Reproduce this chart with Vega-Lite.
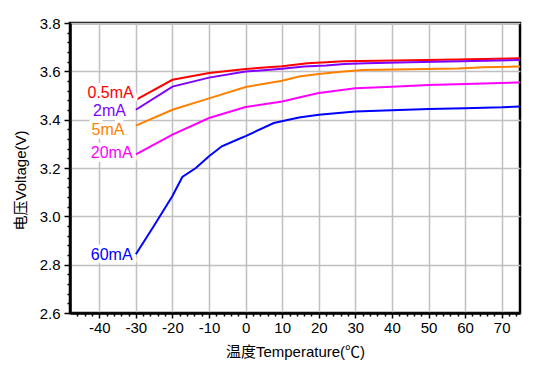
{
  "$schema": "https://vega.github.io/schema/vega-lite/v6.json",
  "width": 450,
  "height": 290,
  "autosize": {"type": "none"},
  "padding": {"left": 70, "top": 23, "right": 27, "bottom": 58},
  "background": "white",
  "config": {
    "view": {"stroke": "black", "strokeWidth": 2.5},
    "font": "Liberation Sans"
  },
  "datasets": {
    "curves": [
      {"series": "0.5mA", "T": -30, "V": 3.482},
      {"series": "0.5mA", "T": -20, "V": 3.565},
      {"series": "0.5mA", "T": -10, "V": 3.593},
      {"series": "0.5mA", "T": 0, "V": 3.61},
      {"series": "0.5mA", "T": 10, "V": 3.621},
      {"series": "0.5mA", "T": 16.9, "V": 3.633},
      {"series": "0.5mA", "T": 22, "V": 3.638},
      {"series": "0.5mA", "T": 26.6, "V": 3.642},
      {"series": "0.5mA", "T": 41, "V": 3.645},
      {"series": "0.5mA", "T": 57.7, "V": 3.649},
      {"series": "0.5mA", "T": 75, "V": 3.654},
      {"series": "2mA", "T": -30, "V": 3.441},
      {"series": "2mA", "T": -20, "V": 3.537},
      {"series": "2mA", "T": -10, "V": 3.574},
      {"series": "2mA", "T": 0, "V": 3.599},
      {"series": "2mA", "T": 10, "V": 3.611},
      {"series": "2mA", "T": 16, "V": 3.62},
      {"series": "2mA", "T": 22, "V": 3.624},
      {"series": "2mA", "T": 27, "V": 3.63},
      {"series": "2mA", "T": 33, "V": 3.633},
      {"series": "2mA", "T": 45, "V": 3.638},
      {"series": "2mA", "T": 59, "V": 3.642},
      {"series": "2mA", "T": 75, "V": 3.647},
      {"series": "5mA", "T": -30, "V": 3.375},
      {"series": "5mA", "T": -20, "V": 3.441},
      {"series": "5mA", "T": -10, "V": 3.488},
      {"series": "5mA", "T": 0, "V": 3.535},
      {"series": "5mA", "T": 10, "V": 3.561},
      {"series": "5mA", "T": 14.6, "V": 3.579},
      {"series": "5mA", "T": 20, "V": 3.589},
      {"series": "5mA", "T": 26, "V": 3.598},
      {"series": "5mA", "T": 32, "V": 3.606},
      {"series": "5mA", "T": 45, "V": 3.609},
      {"series": "5mA", "T": 58, "V": 3.612},
      {"series": "5mA", "T": 65, "V": 3.617},
      {"series": "5mA", "T": 75, "V": 3.62},
      {"series": "20mA", "T": -30, "V": 3.256},
      {"series": "20mA", "T": -20, "V": 3.338},
      {"series": "20mA", "T": -10, "V": 3.407},
      {"series": "20mA", "T": 0, "V": 3.452},
      {"series": "20mA", "T": 10, "V": 3.475},
      {"series": "20mA", "T": 14.6, "V": 3.492},
      {"series": "20mA", "T": 20, "V": 3.51},
      {"series": "20mA", "T": 30, "V": 3.53},
      {"series": "20mA", "T": 40, "V": 3.536},
      {"series": "20mA", "T": 50, "V": 3.543},
      {"series": "20mA", "T": 60, "V": 3.548},
      {"series": "20mA", "T": 75, "V": 3.554},
      {"series": "60mA", "T": -30, "V": 2.843},
      {"series": "60mA", "T": -25, "V": 2.962},
      {"series": "60mA", "T": -20, "V": 3.084},
      {"series": "60mA", "T": -17.3, "V": 3.163},
      {"series": "60mA", "T": -13.6, "V": 3.2},
      {"series": "60mA", "T": -10, "V": 3.249},
      {"series": "60mA", "T": -6.5, "V": 3.29},
      {"series": "60mA", "T": -2.2, "V": 3.318},
      {"series": "60mA", "T": 0, "V": 3.332},
      {"series": "60mA", "T": 7.7, "V": 3.386},
      {"series": "60mA", "T": 14.6, "V": 3.409},
      {"series": "60mA", "T": 20, "V": 3.42},
      {"series": "60mA", "T": 30, "V": 3.434},
      {"series": "60mA", "T": 50, "V": 3.444},
      {"series": "60mA", "T": 60, "V": 3.447},
      {"series": "60mA", "T": 70, "V": 3.451},
      {"series": "60mA", "T": 75, "V": 3.455}
    ],
    "labels": [
      {"series": "0.5mA", "T": -36.9, "V": 3.509},
      {"series": "2mA", "T": -37.2, "V": 3.437},
      {"series": "5mA", "T": -37.6, "V": 3.359},
      {"series": "20mA", "T": -36.6, "V": 3.264},
      {"series": "60mA", "T": -36.6, "V": 2.839}
    ]
  },
  "encoding": {
    "x": {
      "field": "T",
      "type": "quantitative",
      "scale": {"domain": [-48, 75], "nice": false, "zero": false},
      "axis": {
        "title": "温度Temperature(℃)",
        "titleFont": "Liberation Sans, Noto Sans CJK SC",
        "titleFontSize": 15,
        "titleFontWeight": "normal",
        "titleColor": "black",
        "titlePadding": 9,
        "values": [-46,-44,-42,-40,-38,-36,-34,-32,-30,-28,-26,-24,-22,-20,-18,-16,-14,-12,-10,-8,-6,-4,-2,0,2,4,6,8,10,12,14,16,18,20,22,24,26,28,30,32,34,36,38,40,42,44,46,48,50,52,54,56,58,60,62,64,66,68,70,72,74],
        "labelExpr": "datum.value % 10 === 0 ? toString(datum.value) : ''",
        "labelFontSize": 15,
        "labelColor": "black",
        "labelPadding": 2,
        "labelFlush": false,
        "labelOverlap": false,
        "tickColor": "black",
        "tickWidth": 1.5,
        "tickSize": {"condition": {"test": "datum.value % 10 === 0", "value": 5}, "value": 3},
        "grid": true,
        "gridColor": "#c0c0c0",
        "gridWidth": 1.5,
        "gridOpacity": {"condition": {"test": "datum.value % 10 === 0", "value": 1}, "value": 0},
        "domainColor": "black",
        "domainWidth": 2.5
      }
    },
    "y": {
      "field": "V",
      "type": "quantitative",
      "scale": {"domain": [2.6, 3.8], "nice": false, "zero": false},
      "axis": {
        "title": "电压Voltage(V)",
        "titleFont": "Liberation Sans, Noto Sans CJK SC",
        "titleFontSize": 15,
        "titleFontWeight": "normal",
        "titleColor": "black",
        "titlePadding": 11,
        "titleY": 157,
        "values": [2.6,2.64,2.68,2.72,2.76,2.8,2.84,2.88,2.92,2.96,3.0,3.04,3.08,3.12,3.16,3.2,3.24,3.28,3.32,3.36,3.4,3.44,3.48,3.52,3.56,3.6,3.64,3.68,3.72,3.76,3.8],
        "labelExpr": "round(datum.value*100) % 20 === 0 ? format(datum.value, '.1f') : ''",
        "labelFontSize": 15,
        "labelColor": "black",
        "labelPadding": 4,
        "labelFlush": false,
        "labelOverlap": false,
        "tickColor": "black",
        "tickWidth": 1.5,
        "tickSize": {"condition": {"test": "round(datum.value*100) % 20 === 0", "value": 6}, "value": 3},
        "grid": true,
        "gridColor": "#c0c0c0",
        "gridWidth": 1.5,
        "gridOpacity": {"condition": {"test": "round(datum.value*100) % 20 === 0", "value": 1}, "value": 0},
        "domainColor": "black",
        "domainWidth": 2.5
      }
    },
    "color": {
      "field": "series",
      "type": "nominal",
      "scale": {
        "domain": ["0.5mA", "2mA", "5mA", "20mA", "60mA"],
        "range": ["#ff0000", "#8000ff", "#ff8000", "#ff00ff", "#0000ff"]
      },
      "legend": null
    }
  },
  "layer": [
    {
      "data": {"name": "curves"},
      "mark": {"type": "line", "strokeWidth": 2, "clip": true},
      "encoding": {"order": {"field": "T", "type": "quantitative"}}
    },
    {
      "data": {"name": "labels"},
      "mark": {"type": "text", "font": "Liberation Sans", "fontSize": 16, "align": "center", "baseline": "middle", "stroke": "white", "strokeWidth": 8, "strokeJoin": "round"},
      "encoding": {"text": {"field": "series"}, "color": {"value": "white"}}
    },
    {
      "data": {"name": "labels"},
      "mark": {"type": "text", "font": "Liberation Sans", "fontSize": 16, "align": "center", "baseline": "middle"},
      "encoding": {"text": {"field": "series"}}
    }
  ]
}
